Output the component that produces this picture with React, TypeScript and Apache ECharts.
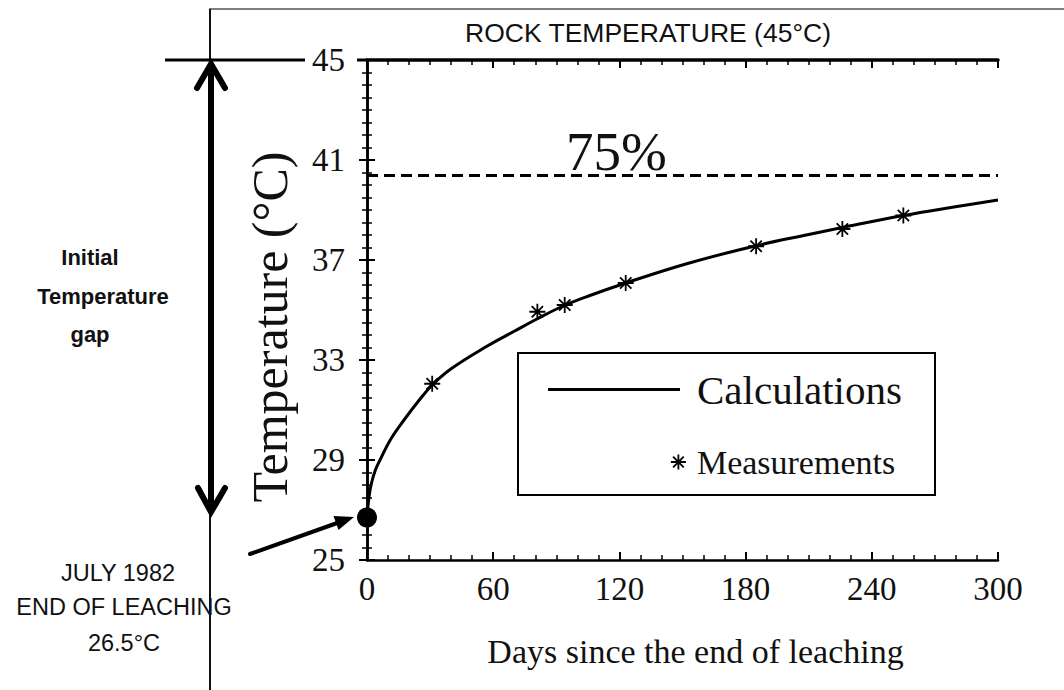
import React, { useEffect, useRef } from "react";
import * as echarts from "echarts";

// ---- data ----
const calcDays = [0, 1, 2.2, 4, 6.2, 11.4, 17.6, 24.4, 31, 40, 57, 70, 81, 93, 105, 122, 152, 184, 210, 226, 255, 279, 300];
const calcTemps = [26.7, 27.55, 28.1, 28.6, 29.0, 29.85, 30.6, 31.35, 32.0, 32.65, 33.55, 34.15, 34.65, 35.15, 35.55, 36.05, 36.85, 37.55, 38.02, 38.3, 38.78, 39.12, 39.4];
const measDays = [31, 81, 94, 123, 185, 226, 255];
const measTemps = [32.05, 34.93, 35.2, 36.08, 37.55, 38.24, 38.78];
const startPoint = [0, 26.7];
const threshold75 = 40.375;
const xMin = 0, xMax = 300, xInterval = 60;
const yMin = 25, yMax = 45, yInterval = 4;

const SERIF = "'Liberation Serif', 'Times New Roman', serif";
const SANS = "'Liberation Sans', Arial, sans-serif";
const STAR = "path://M10,0L10,20M0,10L20,10M2.9,2.9L17.1,17.1M2.9,17.1L17.1,2.9";

export default function App() {
  const ref = useRef<HTMLDivElement>(null);
  useEffect(() => {
    if (!ref.current) return;
    const chart = echarts.init(ref.current, undefined, { renderer: "svg" });
    const calc = calcDays.map((d, i) => [d, calcTemps[i]]);
    const meas = measDays.map((d, i) => [d, measTemps[i]]);
    const tickLabel = { fontFamily: SERIF, fontSize: 33, color: "#111" };
    const axisCommon = {
      axisLine: { show: true, lineStyle: { color: "#000", width: 2.5 } },
      axisTick: { show: true, inside: true, length: 8, lineStyle: { color: "#000", width: 2 } },
      minorTick: { show: true, length: 5, lineStyle: { color: "#000", width: 1.5 } },
      splitLine: { show: false },
    };
    chart.setOption({
      animation: false,
      backgroundColor: "#fff",
      grid: { left: 367, right: 66, top: 60, bottom: 130, containLabel: false },
      xAxis: [
        {
          type: "value", min: xMin, max: xMax, interval: xInterval, position: "bottom",
          ...axisCommon, minorTick: { ...axisCommon.minorTick, splitNumber: 6 },
          axisLabel: { ...tickLabel, margin: 12 },
          name: "Days since the end of leaching", nameLocation: "middle", nameGap: 74,
          nameTextStyle: { fontFamily: SERIF, fontSize: 34, color: "#111", padding: [0, 0, 0, 26] },
        },
        {
          type: "value", min: xMin, max: xMax, interval: xInterval, position: "top",
          ...axisCommon, axisLine: { show: true, lineStyle: { color: "#000", width: 3.5 } },
          minorTick: { ...axisCommon.minorTick, splitNumber: 6 },
          axisLabel: { show: false },
        },
      ],
      yAxis: [
        {
          type: "value", min: yMin, max: yMax, interval: yInterval, position: "left",
          ...axisCommon, minorTick: { ...axisCommon.minorTick, splitNumber: 8 },
          axisLabel: { ...tickLabel, margin: 22 },
        },
        {
          type: "value", min: yMin, max: yMax, interval: yInterval, position: "right",
          ...axisCommon, minorTick: { ...axisCommon.minorTick, splitNumber: 8 },
          axisLabel: { show: false },
        },
      ],
      legend: [
        {
          data: [{ name: "Calculations", icon: "rect" }], left: 548, top: 369, itemWidth: 132, itemHeight: 3,
          padding: 0, selectedMode: false,
          itemStyle: { color: "#000" },
          textStyle: { fontFamily: SERIF, fontSize: 41, color: "#111", padding: [0, 0, 0, 12] },
        },
        {
          data: [{ name: "Measurements", icon: STAR }], left: 670, top: 445, itemWidth: 15, itemHeight: 15,
          padding: 0, selectedMode: false,
          itemStyle: { color: "#000", borderColor: "#000", borderWidth: 1.8, opacity: 1 },
          textStyle: { fontFamily: SERIF, fontSize: 34, color: "#111", padding: [0, 0, 0, 6] },
        },
      ],
      series: [
        {
          name: "Calculations", type: "line", data: calc, smooth: 0.4,
          symbol: "none", lineStyle: { color: "#000", width: 3 }, itemStyle: { color: "#000" },
          z: 3,
          markLine: {
            silent: true, symbol: "none", label: { show: false },
            lineStyle: { color: "#000", width: 3, type: [11, 6] },
            data: [{ yAxis: threshold75 }],
          },
        },
        {
          name: "Measurements", type: "scatter", data: meas, symbol: STAR, symbolSize: 16,
          itemStyle: { color: "#000", borderColor: "#000", borderWidth: 1.8, opacity: 1 }, z: 4,
        },
        {
          name: "Start", type: "scatter", data: [startPoint], symbol: "circle", symbolSize: 20,
          itemStyle: { color: "#000", opacity: 1 }, clip: false, z: 5,
        },
      ],
      graphic: [
        // outer frame lines
        { type: "line", shape: { x1: 209, y1: 9, x2: 1064, y2: 9 }, style: { stroke: "#555", lineWidth: 1.5 } },
        { type: "line", shape: { x1: 210, y1: 9, x2: 210, y2: 690 }, style: { stroke: "#111", lineWidth: 2 } },
        // 45 level line
        { type: "line", shape: { x1: 165, y1: 60, x2: 305, y2: 60 }, style: { stroke: "#000", lineWidth: 3 } },
        { type: "line", shape: { x1: 357, y1: 60, x2: 367, y2: 60 }, style: { stroke: "#000", lineWidth: 3 } },
        // double arrow (temperature gap)
        { type: "line", shape: { x1: 211, y1: 66, x2: 211, y2: 510 }, style: { stroke: "#000", lineWidth: 6 } },
        { type: "polyline", shape: { points: [[197, 88], [211, 64], [225, 88]] }, style: { stroke: "#000", lineWidth: 6, fill: "none", lineCap: "round", lineJoin: "miter" } },
        { type: "polyline", shape: { points: [[198, 488], [211, 512], [225, 488]] }, style: { stroke: "#000", lineWidth: 6, fill: "none", lineCap: "round", lineJoin: "miter" } },
        // small arrow to start point
        { type: "line", shape: { x1: 250, y1: 554, x2: 340, y2: 522 }, style: { stroke: "#000", lineWidth: 4, lineCap: "round" } },
        { type: "polygon", shape: { points: [[354, 517], [338.5, 530], [333.5, 516]] }, style: { fill: "#000" } },
        // legend box
        { type: "rect", shape: { x: 518, y: 353, width: 417, height: 142 }, style: { stroke: "#000", lineWidth: 2, fill: "none" }, z: 1 },
        // axis title (vertical)
        { type: "text", rotation: Math.PI / 2, x: 270, y: 327, style: { text: "Temperature (°C)", x: 0, y: 0, textAlign: "center", textVerticalAlign: "middle", font: `50px ${SERIF}`, fill: "#111" } },
        // texts
        { type: "text", style: { text: "ROCK TEMPERATURE (45°C)", x: 648, y: 33, textAlign: "center", textVerticalAlign: "middle", font: `26.5px ${SANS}`, fill: "#111" } },
        { type: "text", style: { text: "75%", x: 566, y: 151, textAlign: "left", textVerticalAlign: "middle", font: `55px ${SERIF}`, fill: "#111" } },
        { type: "text", style: { text: "Initial", x: 90, y: 257, textAlign: "center", textVerticalAlign: "middle", font: `bold 22px ${SANS}`, fill: "#111" } },
        { type: "text", style: { text: "Temperature", x: 103, y: 296, textAlign: "center", textVerticalAlign: "middle", font: `bold 22px ${SANS}`, fill: "#111" } },
        { type: "text", style: { text: "gap", x: 90, y: 334, textAlign: "center", textVerticalAlign: "middle", font: `bold 22px ${SANS}`, fill: "#111" } },
        { type: "text", style: { text: "JULY 1982", x: 118, y: 573, textAlign: "center", textVerticalAlign: "middle", font: `23.5px ${SANS}`, fill: "#111" } },
        { type: "text", style: { text: "END OF LEACHING", x: 124, y: 607, textAlign: "center", textVerticalAlign: "middle", font: `23.5px ${SANS}`, fill: "#111" } },
        { type: "text", style: { text: "26.5°C", x: 124, y: 643, textAlign: "center", textVerticalAlign: "middle", font: `23.5px ${SANS}`, fill: "#111" } },
      ],
    });
    return () => chart.dispose();
  }, []);
  return <div ref={ref} style={{ position: "absolute", left: 0, top: 0, width: 1064, height: 690 }} />;
}
